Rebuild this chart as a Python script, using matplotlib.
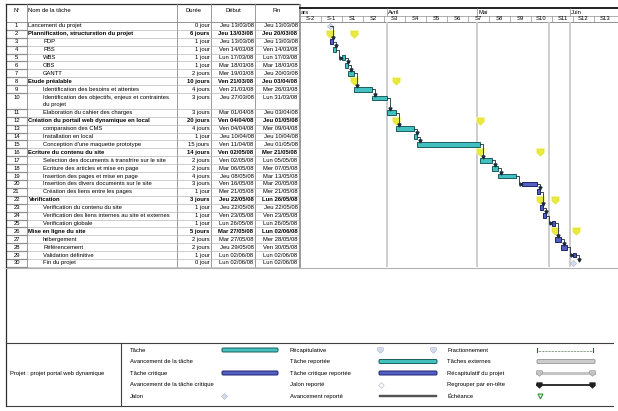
import matplotlib
matplotlib.use("Agg")
import matplotlib.pyplot as plt
import matplotlib.dates as mdates
from matplotlib.path import Path
from matplotlib.patches import FancyBboxPatch
from datetime import datetime, timedelta
import numpy as np

plt.rcParams['font.family'] = ['Liberation Sans', 'DejaVu Sans']

# ---------------- data ----------------
task_ids = list(range(1, 31))
task_names = [
    "Lancement du projet",
    "Plannification, structurstion du projet",
    "PDP", "PBS", "WBS", "OBS", "GANTT",
    "Etude préalable",
    "Identification des besoins et attentes",
    "Identification des objectifs, enjeux et contraintes\ndu projet",
    "Elaboration du cahier des charges",
    "Création du portail web dynamique en local",
    "comparaison des CMS",
    "Installation en local",
    "Conception d'une maquette prototype",
    "Ecriture du contenu du site",
    "Selection des documents à transfrire sur le site",
    "Ecriture des articles et mise en page",
    "Insertion des pages et mise en page",
    "Insertion des divers documents sur le site",
    "Création des liens entre les pages",
    "Verification",
    "Verification du contenu du site",
    "Verification des liens internes au site et externes",
    "Verification globale",
    "Mise en ligne du site",
    "hébergement",
    "Référencement",
    "Validation définitive",
    "Fin du projet",
]
task_levels = [1, 1, 2, 2, 2, 2, 2, 1, 2, 2, 2, 1, 2, 2, 2, 1, 2, 2, 2, 2, 2,
               1, 2, 2, 2, 1, 2, 2, 2, 2]
durations = ["0 jour", "6 jours", "1 jour", "1 jour", "1 jour", "1 jour", "2 jours",
             "10 jours", "4 jours", "3 jours", "3 jours", "20 jours", "4 jours",
             "1 jour", "15 jours", "14 jours", "2 jours", "2 jours", "4 jours",
             "3 jours", "1 jour", "3 jours", "1 jour", "1 jour", "1 jour",
             "5 jours", "2 jours", "2 jours", "1 jour", "0 jour"]
start_labels = ["Jeu 13/03/08", "Jeu 13/03/08", "Jeu 13/03/08", "Ven 14/03/08",
                "Lun 17/03/08", "Mar 18/03/08", "Mer 19/03/08", "Ven 21/03/08",
                "Ven 21/03/08", "Jeu 27/03/08", "Mar 01/04/08", "Ven 04/04/08",
                "Ven 04/04/08", "Jeu 10/04/08", "Ven 11/04/08", "Ven 02/05/08",
                "Ven 02/05/08", "Mar 06/05/08", "Jeu 08/05/08", "Ven 16/05/08",
                "Mer 21/05/08", "Jeu 22/05/08", "Jeu 22/05/08", "Ven 23/05/08",
                "Lun 26/05/08", "Mar 27/05/08", "Mar 27/05/08", "Jeu 29/05/08",
                "Lun 02/06/08", "Lun 02/06/08"]
end_labels = ["Jeu 13/03/08", "Jeu 20/03/08", "Jeu 13/03/08", "Ven 14/03/08",
              "Lun 17/03/08", "Mar 18/03/08", "Jeu 20/03/08", "Jeu 03/04/08",
              "Mer 26/03/08", "Lun 31/03/08", "Jeu 03/04/08", "Jeu 01/05/08",
              "Mer 09/04/08", "Jeu 10/04/08", "Jeu 01/05/08", "Mer 21/05/08",
              "Lun 05/05/08", "Mer 07/05/08", "Mar 13/05/08", "Mar 20/05/08",
              "Mer 21/05/08", "Lun 26/05/08", "Jeu 22/05/08", "Ven 23/05/08",
              "Lun 26/05/08", "Lun 02/06/08", "Mer 28/05/08", "Ven 30/05/08",
              "Lun 02/06/08", "Lun 02/06/08"]
task_kinds = ["milestone", "summary", "critical", "task", "task", "task", "task",
              "summary", "task", "task", "task", "summary", "task", "task", "task",
              "summary", "task", "task", "task", "critical", "critical",
              "summary", "critical", "critical", "critical", "summary",
              "critical", "critical", "critical", "milestone"]
row_lines = [1] * 30
row_lines[9] = 2
links = [(1, 3), (3, 4), (4, 5), (5, 6), (6, 7), (7, 9), (9, 10), (10, 11),
         (11, 13), (13, 14), (14, 15), (15, 17), (17, 18), (18, 19), (19, 20),
         (20, 21), (21, 23), (23, 24), (24, 25), (25, 27), (27, 28), (28, 29),
         (29, 30)]

month_labels = ["ars", "Avril", "Mai", "Juin"]
month_starts = ["2008-03-03", "2008-04-01", "2008-05-01", "2008-06-01"]
week_labels = ["S-2", "S-1", "S1", "S2", "S3", "S4", "S5", "S6", "S7", "S8",
               "S9", "S10", "S11", "S12", "S13"]
week_first = "2008-03-03"
timeline_start = "2008-03-03"
timeline_end = "2008-06-17"
grid_dates = ["2008-04-01", "2008-05-01", "2008-05-25", "2008-06-01"]

legend_col1 = ["Tâche", "Avancement de la tâche", "Tâche critique",
               "Avancement de la tâche critique", "Jalon"]
legend_col2 = ["Récapitulative", "Tâche reportée", "Tâche critique reportée",
               "Jalon reporté", "Avancement reporté"]
legend_col3 = ["Fractionnement", "Tâches externes", "Récapitulatif du projet",
               "Regrouper par en-tête", "Échéance"]
project_label = "Projet : projet portal web dynamique"

# ---------------- helpers ----------------
W, H = 618, 411
fig = plt.figure(figsize=(W / 100, H / 100), dpi=100)
FS = 4.2
TEAL, TEAL_E = "#43c1c1", "#1b5e5e"
BLUE, BLUE_E = "#5360c2", "#1c2472"


def px_axes(l, t, r, b, **kw):
    return fig.add_axes([l / W, 1 - b / H, (r - l) / W, (b - t) / H], **kw)


def parse(s):
    return datetime.strptime(s.split()[1], "%d/%m/%y")


def d2n(s):
    return mdates.date2num(datetime.strptime(s, "%Y-%m-%d"))


shield = Path([(-1, 1), (1, 1), (1, -0.1), (0, -1), (-1, -0.1), (-1, 1)],
              [Path.MOVETO, Path.LINETO, Path.LINETO, Path.LINETO, Path.LINETO,
               Path.CLOSEPOLY])

# overlay for table / legend (pixel coordinates)
ax0 = fig.add_axes([0, 0, 1, 1])
ax0.set_xlim(0, W)
ax0.set_ylim(H, 0)
ax0.axis("off")

ROW_H = 7.9
TOP = 22.0
cum = np.concatenate([[0], np.cumsum(row_lines)])
table_bottom = TOP + cum[-1] * ROW_H
cols = [6, 27, 177, 211, 255, 299]

# table header
ax0.plot([cols[0], cols[-1]], [4, 4], color="#303030", lw=0.9)
ax0.plot([cols[0], W], [TOP, TOP], color="#808080", lw=0.6)
ax0.text(16.5, 10, "N°", fontsize=FS, ha="center", va="center")
ax0.text(28.5, 10, "Nom de la tâche", fontsize=FS, ha="left", va="center")
ax0.text(194, 10, "Durée", fontsize=FS, ha="center", va="center")
ax0.text(233, 10, "Début", fontsize=FS, ha="center", va="center")
ax0.text(277, 10, "Fin", fontsize=FS, ha="center", va="center")
for c in cols[1:]:
    ax0.plot([c, c], [4, table_bottom], color="#8a8a8a", lw=0.6)
ax0.plot([cols[-1] + 1, cols[-1] + 1], [4, table_bottom], color="#8a8a8a", lw=0.6)

for i in range(30):
    yt = TOP + cum[i] * ROW_H
    yb = TOP + cum[i + 1] * ROW_H
    yc = yt + ROW_H / 2
    bold = task_kinds[i] == "summary"
    fw = "bold" if bold else "normal"
    ax0.plot([cols[0], cols[-1]], [yb, yb], color="#b8b8b8", lw=0.5)
    ax0.plot([cols[0], cols[1]], [yb, yb], color="#909090", lw=0.9)
    ax0.text(16.5, yc, str(task_ids[i]), fontsize=FS, ha="center", va="center")
    xname = 28.5 if task_levels[i] == 1 else 43
    lines = task_names[i].split("\n")
    for k, ln in enumerate(lines):
        ax0.text(xname, yc + k * ROW_H, ln, fontsize=FS, ha="left",
                 va="center", fontweight=fw)
    ax0.text(209.5, yc, durations[i], fontsize=FS, ha="right", va="center",
             fontweight=fw)
    ax0.text(253.5, yc, start_labels[i], fontsize=FS, ha="right", va="center",
             fontweight=fw)
    ax0.text(297.5, yc, end_labels[i], fontsize=FS, ha="right", va="center",
             fontweight=fw)

ax0.plot([cols[0], cols[0]], [4, 406], color="#303030", lw=0.9)
ax0.plot([cols[0], W], [table_bottom + 1, table_bottom + 1], color="#b0b0b0", lw=0.8)

# ---------------- gantt header ----------------
x0n, x1n = d2n(timeline_start), d2n(timeline_end)
axh = px_axes(300, 8, W, 22)
axh.set_xlim(x0n, x1n)
axh.set_ylim(14, 0)
axh.axis("off")
axh.plot([x0n, x1n], [0, 0], color="#202020", lw=1.4, clip_on=False)
axh.plot([x0n, x1n], [8, 8], color="#909090", lw=0.5)
for lab, ms in zip(month_labels, month_starts):
    xm = d2n(ms)
    if lab != month_labels[0]:
        axh.plot([xm, xm], [0, 8], color="#909090", lw=0.5)
    axh.text(xm + 0.4, 4.4, lab, fontsize=FS, ha="left", va="center")
wk0 = d2n(week_first)
for k, lab in enumerate(week_labels):
    xs = wk0 + 7 * k
    if k > 0:
        axh.plot([xs, xs], [8, 14], color="#909090", lw=0.5)
    axh.text(xs + 3.5, 11, lab, fontsize=FS, ha="center", va="center")

# ---------------- gantt body ----------------
axg = px_axes(300, TOP, W, table_bottom)
axg.set_xlim(x0n, x1n)
axg.set_ylim(cum[-1], 0)
axg.axis("off")
for gd in grid_dates:
    axg.axvline(d2n(gd), color="#c9c9c9", lw=1.3, zorder=0)

starts = [mdates.date2num(parse(s)) for s in start_labels]
ends = [mdates.date2num(parse(s)) + 1 for s in end_labels]
ycen = []
for i in range(30):
    yc = cum[i] + 0.5 if row_lines[i] == 1 else cum[i] + 0.62
    ycen.append(yc)

BAR_H = 0.62
for i in range(30):
    kind = task_kinds[i]
    if kind in ("task", "critical"):
        fc, ec = (TEAL, TEAL_E) if kind == "task" else (BLUE, BLUE_E)
        axg.barh(ycen[i], ends[i] - starts[i], left=starts[i], height=BAR_H,
                 color=fc, edgecolor=ec, linewidth=0.7, zorder=3)
    elif kind == "summary":
        for xx in (starts[i], ends[i]):
            axg.plot(xx, ycen[i], marker=shield, ms=6.5, color="#f6f6a0",
                     mec="none", zorder=2)
            axg.plot(xx, ycen[i], marker=shield, ms=4.6, color="#eaea3c",
                     mec="#dcdc30", mew=0.4, zorder=3)
    elif kind == "milestone":
        axg.plot(starts[i], ycen[i], marker="D", ms=3.2, color="#d4dbea",
                 mec="#aab4cc", mew=0.4, zorder=3)

LINK_C = "#1d2c38"
for p, s in links:
    ip, is_ = p - 1, s - 1
    xe = ends[ip] if task_kinds[ip] != "milestone" else starts[ip]
    yp = ycen[ip]
    ys = ycen[is_]
    xk = xe + 1.0
    if starts[is_] > xk + 0.5:
        axg.plot([xe, xk, xk, starts[is_] - 0.3], [yp, yp, ys, ys],
                 color=LINK_C, lw=0.6, zorder=4)
        axg.plot(starts[is_] - 0.3, ys, marker=">", ms=2.2, color=LINK_C,
                 zorder=4)
    else:
        yend = ys - BAR_H / 2 - 0.12
        axg.plot([xe, xk, xk], [yp, yp, yend], color=LINK_C, lw=0.6, zorder=4)
        axg.plot(xk, yend, marker="v", ms=2.2, color=LINK_C, zorder=4)

# ---------------- legend ----------------
LG_T, LG_B = 343, 406
ax0.plot([cols[0], 613], [LG_T, LG_T], color="#404040", lw=0.8)
ax0.plot([cols[0], 613], [LG_B, LG_B], color="#404040", lw=0.8)
ax0.plot([121, 121], [LG_T, LG_B], color="#404040", lw=0.8)
ax0.text(10, 373, project_label, fontsize=FS, ha="left", va="center")
leg_y = [350, 361.5, 373, 384.5, 396]
for k in range(5):
    ax0.text(130, leg_y[k], legend_col1[k], fontsize=FS, ha="left", va="center")
    ax0.text(290, leg_y[k], legend_col2[k], fontsize=FS, ha="left", va="center")
    ax0.text(447, leg_y[k], legend_col3[k], fontsize=FS, ha="left", va="center")


def leg_bar(x1, x2, y, fc, ec, h=4.0):
    ax0.add_patch(FancyBboxPatch((x1, y - h / 2), x2 - x1, h,
                                 boxstyle="round,pad=0,rounding_size=1.2",
                                 fc=fc, ec=ec, lw=0.7))


leg_bar(222, 278, leg_y[0], TEAL, TEAL_E)
leg_bar(222, 278, leg_y[2], BLUE, BLUE_E)
ax0.plot(224, leg_y[4], marker="D", ms=3, color="#d4dbea", mec="#aab4cc", mew=0.4)

ax0.plot([380, 433], [leg_y[0], leg_y[0]], ls="none", marker=shield, ms=4,
         color="#d4dbea", mec="#aab4cc", mew=0.4)
leg_bar(379, 437, leg_y[1], TEAL, TEAL_E)
leg_bar(379, 437, leg_y[2], BLUE, BLUE_E)
ax0.plot(381, leg_y[3], marker="D", ms=2.8, color="white", mec="#b8c0d0", mew=0.5)
ax0.add_patch(plt.Rectangle((379, leg_y[4] - 1.2), 58, 2.4, fc="#555555",
                            ec="#555555", lw=0.3))

ax0.plot([537, 593], [leg_y[0] + 1, leg_y[0] + 1], color="#3a5a3a", lw=0.7,
         ls=(0, (0.6, 0.9)))
for xx in (537, 593):
    ax0.plot([xx, xx], [leg_y[0] - 2, leg_y[0] + 1.5], color="#3a5a3a", lw=0.8)
leg_bar(537, 595, leg_y[1], "#cccccc", "#a0a0a0")
ax0.plot([537, 594], [leg_y[2], leg_y[2]], color="#c4c4c4", lw=2.2)
ax0.plot([539, 592], [leg_y[2], leg_y[2]], ls="none", marker=shield, ms=4,
         color="#c4c4c4", mec="#909090", mew=0.4)
ax0.plot([537, 594], [leg_y[3], leg_y[3]], color="#202020", lw=1.3)
ax0.plot([539, 592], [leg_y[3], leg_y[3]], ls="none", marker=shield, ms=4,
         color="#202020", mec="#202020", mew=0.4)
ax0.plot(540, leg_y[4], marker="v", ms=3.5, color="white", mec="#2f8f2f", mew=0.8)

fig.savefig("out.png", dpi=100)
